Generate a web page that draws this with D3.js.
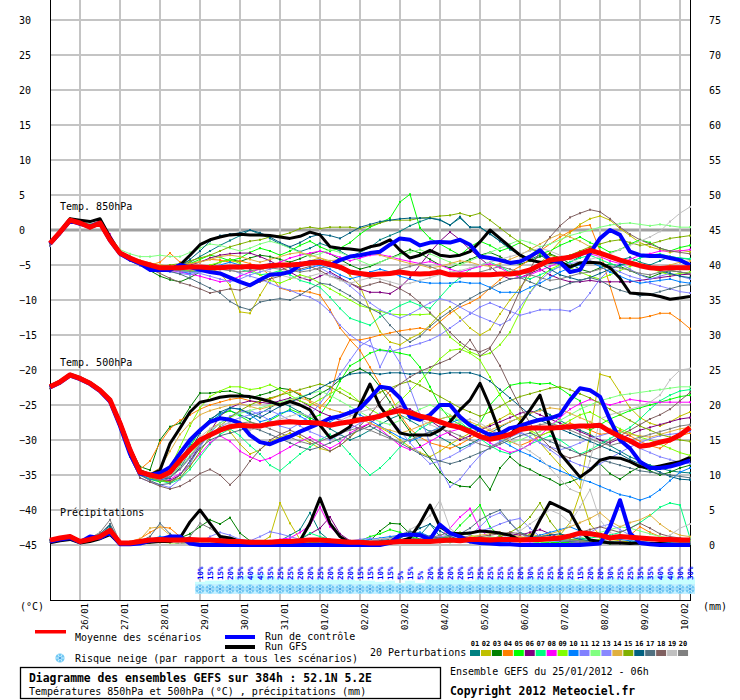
<!DOCTYPE html>
<html><head><meta charset="utf-8">
<script src="https://cdn.jsdelivr.net/npm/d3@7"></script>
<style>body{margin:0;background:#fff}svg{display:block}</style>
</head><body><svg id="c" width="740" height="700"></svg>
<script>
// ---------------- DATA ----------------
const leftTicks = [30,25,20,15,10,5,0,-5,-10,-15,-20,-25,-30,-35,-40,-45];
const rightTicks = [75,70,65,60,55,50,45,40,35,30,25,20,15,10,5,0];
const dayLabels = ["26/01","27/01","28/01","29/01","30/01","31/01","01/02","02/02","03/02","04/02","05/02","06/02","07/02","08/02","09/02","10/02"];
const dayIdx = [3,7,11,15,19,23,27,31,35,39,43,47,51,55,59,63];
const snowStart = 15;
const snowPct = [10,15,15,20,35,40,45,35,25,25,20,20,25,20,20,20,15,15,10,15,5,15,5,20,20,
                 20,20,15,25,25,25,25,20,30,25,25,20,25,15,20,20,30,25,25,35,35,40,40,30,30];
const pertNames = ["01","02","03","04","05","06","07","08","09","10","11","12","13","14","15","16","17","18","19","20"];
const pertColors = ["#008080","#c0c000","#008000","#ff8000","#00ff00","#800080","#00ff80","#ff00ff","#80ff00","#0080ff","#8080ff","#80ff80","#8888ff","#e0b040","#80b000","#006080","#507080","#806060","#c0c0c0","#808080"];

const mean850 = [-1.9,-0.3,1.4,1.0,0.4,1.0,-1.4,-3.3,-4.0,-4.6,-5.0,-5.4,-5.4,-5.4,
 -5.3,-5.3,-5.4,-5.4,-5.3,-5.3,-5.2,-5.3,-5.1,-5.0,
 -5.0,-4.9,-4.7,-4.6,-4.9,-5.3,-6.0,-6.2,-6.4,-6.3,
 -6.2,-6.0,-6.2,-6.3,-6.2,-6.0,-6.4,-6.4,-6.4,-6.4,
 -6.4,-6.3,-6.3,-6.1,-5.7,-5.0,-4.3,-4.1,-3.9,-3.4,
 -2.9,-3.3,-3.8,-4.3,-4.7,-5.1,-5.4,-5.5,-5.4,-5.4,-5.4];
const ctrl850 = [-2.0,-0.4,1.3,0.9,0.5,1.0,-1.5,-3.4,-4.2,-4.8,-5.7,-5.7,-5.7,-5.0,
 -5.3,-5.7,-6.0,-6.2,-6.8,-7.4,-7.9,-7.1,-6.4,-6.3,
 -6.0,-5.0,-4.6,-4.5,-5.0,-4.3,-3.8,-3.6,-3.3,-3.1,
 -2.1,-1.2,-1.4,-2.2,-1.8,-1.7,-1.8,-1.4,-2.1,-3.8,
 -4.0,-4.3,-4.7,-4.5,-3.8,-2.9,-4.3,-4.6,-6.0,-5.7,
 -3.3,-1.2,0.0,-0.7,-3.1,-3.6,-3.7,-3.7,-4.0,-4.3,-5.0];
const gfs850 = [-1.9,-0.2,1.6,1.4,1.2,1.6,-1.0,-3.3,-4.1,-4.7,-5.2,-5.6,-5.6,-5.0,
 -3.6,-2.1,-1.4,-1.0,-0.7,-0.6,-0.7,-0.7,-0.8,-1.0,
 -1.2,-0.9,-0.3,-0.7,-2.4,-2.6,-2.7,-2.9,-2.4,-2.1,
 -1.4,-2.9,-4.0,-3.6,-2.9,-3.6,-3.8,-3.6,-3.1,-1.7,
 0.0,-1.2,-2.4,-3.6,-4.3,-4.6,-4.6,-4.5,-5.3,-4.7,
 -4.6,-4.7,-5.4,-6.9,-9.0,-9.1,-9.2,-9.5,-9.9,-9.7,-9.5];

const mean500 = [-22.4,-21.7,-20.7,-21.2,-21.9,-22.9,-24.3,-27.6,-31.4,-34.6,-35.0,-35.3,-34.6,-32.9,
 -31.4,-30.0,-29.3,-28.6,-28.1,-27.9,-28.0,-28.0,-27.7,-27.5,
 -27.4,-27.5,-27.5,-27.6,-27.9,-27.6,-27.4,-27.1,-26.9,-26.6,
 -26.1,-25.8,-26.1,-26.6,-26.9,-27.4,-27.9,-28.2,-28.8,-29.5,
 -29.9,-29.6,-29.2,-28.5,-28.3,-28.3,-28.3,-28.2,-28.1,-28.0,
 -28.0,-27.9,-28.8,-29.5,-30.1,-30.9,-30.7,-30.3,-30.0,-29.3,-28.2];
const ctrl500 = [-22.5,-21.8,-20.8,-21.3,-22.0,-23.0,-24.5,-28.0,-32.0,-34.8,-35.0,-34.7,-33.9,-31.9,
 -30.0,-28.6,-27.4,-26.9,-27.1,-27.6,-29.3,-30.3,-30.6,-30.0,
 -29.5,-28.8,-28.2,-27.6,-26.9,-26.6,-26.1,-25.5,-24.0,-22.4,
 -22.6,-24.0,-26.7,-27.1,-26.4,-25.0,-25.0,-26.7,-27.9,-28.6,
 -29.3,-29.1,-28.3,-28.0,-27.5,-27.1,-26.9,-26.4,-24.3,-22.6,
 -22.9,-23.8,-27.1,-30.0,-31.2,-33.1,-34.0,-34.0,-33.8,-33.4,-32.9];
const gfs500 = [-22.3,-21.6,-20.6,-21.1,-21.8,-22.8,-24.2,-27.4,-31.2,-34.4,-35.0,-34.3,-30.5,-28.3,
 -26.0,-24.6,-24.3,-23.9,-23.7,-23.7,-23.8,-24.1,-24.5,-25.0,
 -24.5,-25.0,-25.7,-27.9,-29.7,-29.0,-28.1,-25.0,-22.0,-25.2,
 -27.1,-29.0,-29.3,-29.3,-29.3,-28.6,-27.4,-25.7,-24.3,-21.9,
 -25.2,-29.0,-29.3,-27.6,-25.7,-23.6,-28.1,-31.9,-33.6,-35.3,
 -34.3,-32.9,-32.5,-32.6,-33.1,-33.8,-34.0,-33.7,-33.4,-33.1,-32.5];

const meanPr = [0.7,1.0,1.2,0.5,0.8,1.2,2.1,0.3,0.3,0.5,0.7,0.8,0.7,0.7,
 0.8,0.7,0.7,0.6,0.5,0.5,0.4,0.4,0.4,0.5,
 0.5,0.6,0.7,0.7,0.6,0.5,0.4,0.4,0.3,0.3,
 0.4,0.5,0.5,0.5,0.5,0.6,0.7,0.6,0.8,0.8,
 0.7,0.8,0.8,0.7,0.8,0.8,0.9,1.0,1.3,1.7,
 1.6,1.4,1.0,1.2,1.1,1.0,0.9,0.8,0.8,0.7,0.7];
const ctrlPr = [0.5,0.8,1.0,0.4,1.2,1.0,1.8,0.1,0.1,0.2,0.6,0.8,1.2,1.2,
 0.2,0,0,0,0,0,0,0,0,0,
 0,0,0,0,0,0,0,0,0,0,
 0.3,1.4,1.5,1.4,0.8,2.9,1.7,1.2,0.5,0.3,
 0.2,0.1,0.1,0,0,0,0,0,0,0,
 0.1,0.2,2.6,6.4,1.7,0.3,0.1,0,0,0,0];
const gfsPr = [0.3,0.6,0.8,0.3,0.5,0.9,1.5,0.1,0.2,0.3,0.4,0.5,0.5,1.0,
 3.3,5.0,3.1,1.2,1.0,0.5,0,0,0.1,0.2,
 0.3,0.6,3.1,6.7,3.1,1.2,0.3,0.2,0.1,0.2,
 0.3,0.5,1.0,3.1,5.7,2.6,1.7,1.6,1.7,2.0,
 1.9,1.7,1.4,0.7,0.8,3.6,6.1,5.4,4.7,2.1,
 0.7,0.5,0.3,0.3,0.2,0.3,0.2,0.2,0.1,0.1,0.1];

const pert850 = [
 [-2.1,-0.5,1.6,1.2,0.6,0.9,-1.0,-3.5,-4.2,-4.5,-5.1,-5.6,-5.2,-5.0, -4.6,-3.8,-3.0,-2.2,-1.5,-0.8,0.0,-0.6,-1.2,-2.0, -2.5,-3.1,-2.6,-1.9,-2.4,-3.0,-3.8,-3.2,-2.5,-1.4, -0.8,-0.2,0.6,1.2,1.7,1.5,0.7,1.7,0.4,0.4, -0.5,-1.6,-2.8,-3.5,-4.2,-3.6,-4.4,-5.0,-4.6,-3.8, -3.0,-3.4,-4.0,-4.3,-3.9,-4.6,-5.0,-4.4,-3.8,-4.0, -4.2],
 [-1.9,-0.2,1.4,1.0,0.5,1.1,-1.4,-3.2,-3.9,-4.5,-4.9,-5.3,-5.2,-5.4, -5.8,-5.6,-5.5,-6.1,-7.9,-11.7,-11.9,-9.3,-7.0,-5.8, -5.2,-4.8,-4.4,-4.0,-4.6,-5.2,-6.5,-8.0,-11.5,-14.5, -16.0,-16.4,-15.5,-14.8,-13.6,-12.0,-11.0,-12.5,-14.0,-15.0, -14.2,-12.0,-10.0,-8.2,-6.5,-4.8,-3.2,-1.6,-0.4,0.8, 1.6,2.0,1.4,0.2,-0.8,-1.8,-2.4,-2.8,-3.2,-2.9, -3.1],
 [-2.0,-0.4,1.5,1.2,0.6,1.1,-1.2,-3.4,-4.3,-5.0,-5.8,-6.6,-7.1,-7.4, -6.8,-6.0,-5.2,-4.6,-4.2,-4.5,-4.0,-3.6,-3.8,-4.2, -4.6,-4.1,-3.5,-3.0,-3.4,-4.2,-5.0,-5.6,-5.2,-4.6, -4.0,-3.4,-2.8,-3.3,-4.2,-5.0,-5.4,-4.8,-4.2,-3.6, -3.2,-3.8,-4.6,-4.9,-4.4,-3.8,-3.4,-4.0,-4.8,-5.6, -6.0,-5.4,-4.8,-5.2,-5.8,-6.4,-6.8,-6.2,-5.8,-6.0, -6.3],
 [-2.0,-0.3,1.5,1.0,0.4,0.9,-1.3,-3.2,-4.0,-4.5,-5.0,-4.6,-3.3,-4.6, -4.8,-4.5,-4.2,-4.3,-4.6,-4.4,-4.8,-5.3,-6.5,-8.3, -8.7,-8.7,-8.9,-9.3,-11.4,-14.0,-15.7,-15.7,-15.4,-15.0, -14.7,-14.4,-14.2,-14.0,-14.3,-13.1,-11.9,-11.0,-10.4,-9.6, -8.3,-7.1,-6.0,-5.2,-4.2,-3.0,-2.0,-1.0,-0.2,0.5, 0.7,-3.0,-8.0,-12.6,-12.6,-12.6,-12.3,-11.9,-11.9,-12.9, -14.1],
 [-2.2,-0.5,1.3,1.0,0.4,1.0,-1.1,-3.0,-3.8,-4.4,-4.8,-5.0,-5.2,-5.1, -4.8,-4.2,-3.6,-3.9,-4.4,-4.0,-3.2,-2.6,-3.0,-3.6, -3.0,-2.2,-1.6,-2.4,-3.0,-2.6,-1.8,-0.6,0.4,1.0, 1.7,4.0,5.1,0.3,-1.2,-2.0,-2.8,-3.6,-2.4,-1.6, -2.2,-3.0,-2.5,-1.8,-2.6,-3.4,-3.0,-2.2,-1.6,-1.0, -1.8,-2.4,-3.2,-2.8,-2.0,-1.4,-1.8,-2.6,-3.0,-2.5, -2.2],
 [-2.0,-0.3,1.6,1.3,0.8,1.3,-1.0,-3.1,-3.9,-4.4,-4.9,-5.2,-5.3,-5.2, -5.0,-4.6,-4.0,-3.6,-3.4,-3.3,-3.3,-3.8,-4.4,-5.2, -6.0,-6.8,-7.2,-6.6,-6.0,-6.8,-7.6,-8.4,-8.9,-8.9, -9.1,-8.2,-6.8,-5.0,-3.2,-1.6,-0.3,-1.4,-2.8,-4.0, -5.2,-6.4,-7.0,-6.8,-6.2,-5.6,-6.4,-7.0,-7.4,-7.4, -7.2,-7.4,-7.4,-7.4,-7.4,-7.2,-7.0,-6.8,-6.6,-6.4, -6.3],
 [-1.9,-0.2,1.5,1.1,0.6,1.0,-1.4,-3.4,-4.1,-4.8,-5.2,-5.5,-5.6,-5.7, -5.9,-6.0,-5.8,-5.5,-5.2,-5.6,-6.0,-6.4,-6.2,-5.8, -6.4,-7.2,-7.6,-8.2,-9.6,-11.2,-12.6,-13.1,-13.6,-12.4, -11.6,-10.8,-10.2,-10.8,-11.2,-9.6,-8.0,-6.8,-5.6,-5.0, -4.6,-5.2,-6.0,-6.6,-7.0,-6.4,-5.8,-5.2,-4.6,-4.0, -3.6,-4.2,-4.8,-5.2,-4.6,-4.0,-3.6,-3.4,-3.8,-4.0, -4.1],
 [-2.1,-0.4,1.4,1.0,0.5,1.1,-0.6,-3.0,-4.0,-4.7,-5.2,-5.6,-5.8,-6.0, -6.3,-6.6,-7.0,-7.4,-7.2,-6.6,-6.0,-5.6,-5.2,-4.6, -4.0,-3.6,-3.3,-3.0,-3.4,-3.9,-4.4,-4.0,-3.6,-3.5, -3.8,-4.2,-4.5,-4.8,-4.5,-5.0,-5.6,-6.0,-5.6,-5.2, -4.8,-5.4,-6.2,-6.8,-6.4,-5.8,-5.2,-4.6,-4.0,-3.6, -3.4,-3.8,-4.4,-4.8,-4.2,-3.6,-3.4,-3.0,-3.0,-3.0, -2.8],
 [-1.8,-0.1,1.6,1.2,0.6,1.0,-1.2,-3.2,-3.9,-4.4,-4.9,-5.3,-5.4,-5.6, -5.8,-5.4,-5.0,-4.6,-4.2,-4.8,-5.6,-6.4,-7.2,-7.6, -7.0,-6.4,-6.8,-7.6,-8.4,-9.2,-10.0,-10.8,-11.2,-11.6, -12.0,-12.1,-12.1,-12.1,-12.0,-13.1,-15.3,-16.4,-17.4,-18.0, -17.6,-16.4,-14.6,-11.7,-8.9,-7.0,-5.6,-5.0,-5.4,-6.0, -6.6,-7.0,-6.4,-5.8,-5.2,-4.8,-5.4,-6.0,-6.4,-6.2, -6.0],
 [-2.0,-0.3,1.4,1.0,0.4,0.9,-1.4,-3.5,-4.3,-5.0,-5.6,-5.8,-5.6,-5.9, -6.2,-5.8,-5.4,-5.0,-4.6,-5.0,-5.6,-5.2,-4.8,-5.0, -5.4,-5.8,-5.4,-5.0,-5.6,-6.4,-7.0,-6.6,-6.0,-5.6, -6.0,-6.6,-7.0,-7.4,-7.6,-7.6,-7.6,-7.4,-7.6,-7.6, -8.2,-8.9,-8.9,-8.9,-8.2,-7.6,-6.8,-6.0,-5.4,-5.0, -4.6,-5.2,-6.0,-6.6,-7.2,-7.6,-7.4,-7.2,-7.0,-7.4, -7.6],
 [-2.3,-0.6,1.2,0.8,0.3,0.8,-1.5,-3.6,-4.4,-5.1,-5.6,-5.8,-6.0,-6.2, -6.4,-6.0,-5.4,-5.0,-5.6,-6.2,-6.6,-7.0,-7.6,-8.2, -8.6,-9.2,-9.6,-10.4,-11.7,-13.6,-15.0,-16.0,-16.6,-17.2, -17.4,-17.0,-16.6,-16.2,-15.7,-15.0,-14.0,-13.0,-12.0,-11.0, -10.4,-11.0,-11.6,-12.2,-11.8,-11.4,-11.4,-11.4,-11.6,-10.8, -9.0,-7.0,-5.6,-4.8,-5.6,-6.4,-7.0,-6.6,-6.2,-6.6, -7.0],
 [-1.8,-0.1,1.6,1.3,0.8,1.2,-0.8,-2.8,-3.4,-3.8,-3.8,-3.6,-3.8,-3.8, -3.2,-2.6,-2.0,-2.2,-2.6,-3.0,-2.6,-2.0,-1.6,-2.0, -2.6,-3.2,-3.8,-3.4,-2.8,-3.2,-3.8,-4.4,-5.0,-4.6, -4.0,-3.6,-3.2,-2.8,-3.4,-4.0,-4.6,-5.0,-4.4,-3.8, -3.2,-2.6,-2.0,-1.4,-1.8,-2.4,-2.0,-1.4,-0.8,-0.4, 0.0,0.4,0.7,0.9,1.0,0.8,0.6,0.8,0.6,0.4, 0.4],
 [-2.1,-0.4,1.3,0.9,0.4,0.9,-1.3,-3.3,-4.1,-4.7,-5.2,-5.6,-5.8,-5.9, -6.0,-6.2,-6.6,-7.0,-7.4,-7.0,-6.4,-6.0,-5.6,-5.2, -5.0,-4.6,-4.8,-5.4,-6.2,-7.0,-8.0,-9.2,-10.4,-11.4, -12.0,-12.6,-12.0,-11.2,-10.4,-9.8,-10.2,-11.0,-11.8,-12.4, -13.0,-13.6,-12.8,-11.0,-9.0,-7.2,-6.0,-5.2,-4.8,-4.6, -4.4,-4.8,-5.4,-6.0,-6.6,-7.0,-7.6,-8.0,-8.4,-8.8, -9.0],
 [-1.9,-0.2,1.7,1.3,0.7,1.1,-1.1,-3.1,-3.8,-4.3,-4.7,-5.0,-5.1,-5.0, -4.8,-4.6,-4.2,-3.8,-3.6,-3.8,-4.2,-4.6,-4.2,-3.8, -3.4,-3.2,-3.6,-4.0,-4.4,-4.2,-3.8,-3.4,-3.2,-3.6, -4.0,-4.4,-4.8,-5.0,-5.4,-5.2,-4.8,-4.4,-4.6,-5.0, -5.2,-4.8,-4.2,-3.6,-2.8,-2.0,-1.2,-0.6,-1.0,-1.6, -2.4,-3.2,-3.8,-4.4,-4.8,-5.0,-5.2,-5.4,-5.0,-4.6, -4.4],
 [-2.0,-0.3,1.5,1.1,0.5,1.0,-1.2,-3.3,-4.1,-4.6,-5.0,-5.2,-5.0,-4.8, -4.4,-4.0,-3.6,-3.0,-2.4,-2.0,-1.6,-1.4,-1.0,-0.8, -0.4,0.2,0.4,0.2,0.4,0.4,0.4,0.2,0.6,1.0, 1.4,1.4,1.4,1.7,1.8,2.0,2.1,2.4,2.0,2.4, 1.4,0.3,-0.8,-1.8,-2.6,-3.2,-3.6,-4.0,-3.6,-3.0, -2.4,-2.0,-1.6,-1.4,-1.8,-2.2,-2.0,-1.6,-1.2,-1.0, -0.8],
 [-2.0,-0.3,1.4,1.0,0.5,1.0,-1.3,-3.3,-4.0,-4.6,-5.0,-5.4,-5.6,-5.2, -4.2,-3.0,-1.6,-0.8,-0.6,-0.4,0.0,-0.4,-1.0,-1.8, -2.4,-1.8,-1.0,-0.6,-0.8,-1.2,-0.4,0.4,0.8,1.2, 1.4,1.6,1.7,1.7,1.7,1.4,0.7,1.9,0.4,0.4, -0.6,-1.6,-2.6,-3.4,-4.2,-4.8,-5.6,-6.4,-6.8,-7.2, -6.8,-6.2,-5.6,-5.0,-4.6,-5.0,-5.4,-5.8,-6.2,-6.6, -6.8],
 [-2.2,-0.6,1.2,0.8,0.2,0.7,-1.6,-3.6,-4.4,-5.0,-5.4,-5.7,-5.9,-6.3, -6.9,-7.6,-8.3,-9.0,-10.2,-11.0,-11.4,-10.3,-10.0,-9.8, -10.0,-9.3,-8.4,-7.6,-7.8,-8.6,-9.4,-10.4,-11.2,-11.9, -13.6,-15.0,-16.0,-15.2,-13.8,-12.6,-11.6,-10.6,-9.8,-9.0, -8.4,-7.6,-7.0,-6.8,-7.4,-8.0,-8.6,-8.2,-7.6,-7.2, -6.8,-7.2,-8.0,-8.6,-9.0,-9.4,-9.2,-8.8,-8.4,-8.0, -7.8],
 [-2.1,-0.5,1.4,1.0,0.4,0.9,-1.4,-3.5,-4.3,-5.0,-5.6,-6.2,-6.9,-7.5, -7.9,-8.4,-9.0,-8.7,-8.4,-8.6,-8.0,-7.4,-7.0,-6.6, -6.0,-5.6,-5.2,-5.8,-6.6,-7.0,-7.6,-8.2,-7.8,-7.4, -7.8,-8.4,-9.2,-10.4,-11.8,-13.2,-14.6,-16.0,-17.0,-17.4, -16.8,-14.6,-11.8,-8.6,-5.6,-3.0,-1.0,0.6,1.8,2.4, 2.9,2.6,1.6,0.4,-0.6,-1.4,-2.0,-2.6,-3.0,-3.2, -3.4],
 [-1.9,-0.2,1.6,1.2,0.6,1.0,-1.2,-3.3,-4.0,-4.6,-5.1,-5.5,-5.6,-5.6, -5.6,-5.5,-5.4,-5.6,-5.8,-5.6,-5.4,-5.6,-6.0,-6.4, -6.8,-7.0,-6.6,-6.2,-6.6,-7.2,-7.6,-7.2,-6.8,-7.0, -7.4,-7.8,-7.6,-7.2,-6.8,-6.4,-6.0,-5.8,-5.4,-5.0, -4.6,-4.2,-3.8,-3.4,-3.0,-2.6,-3.0,-3.6,-4.2,-4.6, -4.2,-3.8,-3.4,-2.8,-2.2,-1.6,-1.0,-0.2,1.2,2.4, 3.3],
 [-2.0,-0.4,1.5,1.1,0.5,1.0,-1.3,-3.4,-4.2,-4.8,-5.3,-5.6,-5.7,-5.8, -5.9,-5.8,-5.6,-5.6,-5.8,-6.0,-5.8,-5.6,-5.4,-5.6, -5.8,-6.0,-5.8,-5.4,-5.2,-5.6,-6.0,-6.4,-6.8,-6.4, -6.0,-5.6,-5.2,-4.8,-5.2,-5.8,-6.4,-6.8,-6.4,-6.0, -5.6,-5.2,-5.6,-6.0,-6.4,-6.8,-7.2,-7.0,-6.6,-6.2, -6.0,-5.6,-5.2,-5.4,-5.8,-6.2,-6.4,-6.0,-5.8,-6.0, -6.2]
];

const pert500 = [
 [-22.5,-21.8,-20.8,-21.3,-22.0,-23.0,-24.6,-28.0,-32.0,-35.0,-35.6,-35.8,-35.0,-33.0, -30.6,-28.4,-27.0,-26.2,-25.8,-26.4,-27.0,-26.2,-25.4,-24.6, -25.2,-26.0,-26.8,-27.6,-28.4,-29.2,-30.0,-29.4,-28.6,-27.8, -27.0,-26.4,-27.2,-28.0,-28.8,-29.6,-30.4,-31.2,-30.6,-29.8, -29.0,-28.2,-27.4,-26.8,-26.2,-25.6,-26.4,-27.2,-28.0,-28.6, -29.2,-30.0,-30.8,-31.6,-32.4,-33.0,-33.6,-34.0,-34.4,-34.6, -34.7],
 [-22.3,-21.6,-20.6,-21.0,-21.8,-22.8,-24.2,-27.5,-31.2,-34.4,-35.0,-35.6,-36.0,-35.0, -33.4,-30.6,-28.4,-27.6,-28.8,-30.6,-32.0,-31.4,-30.2,-29.6, -29.0,-29.6,-30.4,-31.2,-31.6,-30.8,-29.6,-28.4,-27.6,-28.2, -29.0,-30.0,-31.0,-31.8,-32.4,-31.6,-30.6,-29.8,-29.0,-28.4, -27.8,-27.0,-26.2,-27.0,-28.6,-30.4,-32.0,-33.6,-35.0,-36.8, -29.0,-20.6,-21.0,-23.2,-25.4,-26.8,-27.6,-28.0,-27.4,-26.6, -26.0],
 [-22.4,-21.7,-20.7,-21.2,-21.9,-22.9,-24.3,-27.6,-31.0,-33.8,-34.3,-30.0,-28.1,-27.6, -25.3,-23.3,-23.3,-23.1,-23.0,-23.4,-24.0,-23.6,-23.2,-22.6, -22.8,-23.6,-24.2,-23.4,-22.6,-21.4,-20.4,-19.8,-20.6,-22.4, -24.6,-26.8,-28.8,-30.8,-32.6,-34.6,-36.0,-36.6,-36.7,-35.2, -37.1,-34.0,-32.4,-33.6,-34.2,-35.0,-35.6,-36.4,-36.0,-35.4, -34.2,-33.4,-34.8,-35.6,-34.6,-33.8,-34.4,-35.0,-34.6,-34.0, -33.6],
 [-22.3,-21.6,-20.6,-21.1,-21.8,-22.8,-24.2,-27.4,-31.0,-34.2,-33.0,-30.4,-28.4,-27.2, -26.4,-25.6,-25.0,-24.6,-24.2,-24.0,-24.4,-24.8,-24.2,-23.6, -22.8,-23.4,-24.6,-25.4,-23.8,-18.4,-15.7,-17.2,-19.6,-22.0, -23.6,-26.4,-28.4,-29.6,-30.4,-30.8,-31.2,-30.6,-29.8,-29.0, -28.6,-29.4,-30.2,-30.8,-30.2,-29.4,-28.8,-28.2,-27.6,-28.0, -28.6,-29.2,-29.0,-28.6,-29.4,-30.2,-30.8,-31.2,-30.2,-29.4, -29.0],
 [-22.5,-21.8,-20.8,-21.3,-22.0,-23.0,-24.5,-27.9,-31.8,-35.0,-35.6,-36.0,-35.4,-33.6, -31.0,-28.6,-27.4,-26.4,-25.8,-26.6,-27.4,-28.0,-27.2,-26.4, -25.6,-26.2,-27.0,-26.4,-24.4,-21.6,-19.4,-18.6,-17.6,-17.1, -17.3,-17.6,-17.9,-19.6,-22.4,-25.2,-27.0,-27.8,-28.4,-27.6, -25.0,-23.4,-22.2,-21.9,-21.8,-22.0,-21.9,-22.6,-23.6,-24.4, -28.6,-27.8,-27.0,-26.4,-25.8,-25.4,-25.0,-24.6,-24.2,-23.8, -23.6],
 [-22.4,-21.7,-20.7,-21.2,-21.9,-22.9,-24.3,-27.6,-31.4,-34.6,-35.2,-35.6,-35.8,-35.0, -33.0,-30.8,-28.8,-26.6,-25.4,-24.8,-24.4,-24.6,-24.8,-24.4, -24.0,-24.4,-25.2,-26.0,-26.6,-27.2,-27.8,-28.4,-27.6,-26.6, -25.8,-25.2,-25.6,-26.4,-27.2,-28.2,-29.2,-30.0,-29.4,-28.6, -28.0,-27.4,-26.8,-26.2,-25.8,-26.4,-27.0,-27.6,-28.2,-28.8, -29.4,-30.0,-30.4,-29.8,-29.2,-28.6,-28.2,-27.8,-27.4,-27.0, -26.8],
 [-22.3,-21.6,-20.6,-21.1,-21.8,-22.8,-24.2,-27.5,-31.3,-34.5,-35.3,-35.8,-36.2,-35.6, -34.2,-32.4,-30.6,-29.2,-28.4,-29.4,-30.8,-32.0,-33.6,-34.4, -33.2,-32.0,-31.0,-30.0,-29.2,-30.4,-32.0,-33.6,-35.0,-34.0, -32.6,-31.0,-29.6,-28.4,-27.6,-27.0,-26.6,-27.4,-28.6,-29.8, -30.8,-31.6,-32.0,-31.4,-30.6,-30.0,-29.4,-30.0,-31.0,-32.0, -31.4,-30.6,-29.8,-29.0,-28.2,-27.0,-25.6,-24.4,-23.6,-23.0, -22.8],
 [-22.4,-21.7,-20.7,-21.2,-21.9,-22.8,-24.0,-27.0,-30.8,-34.2,-35.0,-35.4,-35.6,-34.8, -33.6,-32.0,-30.4,-29.4,-30.2,-31.6,-32.4,-33.0,-32.6,-31.8, -31.0,-30.2,-29.6,-30.4,-31.2,-30.4,-29.0,-28.2,-27.6,-28.4, -29.6,-30.8,-31.4,-31.0,-30.2,-29.4,-28.8,-28.4,-28.8,-29.6, -30.4,-31.2,-31.8,-31.4,-30.6,-29.4,-28.0,-26.8,-25.6,-24.8, -24.2,-24.6,-25.0,-24.6,-24.2,-24.4,-24.6,-24.6,-24.6,-24.6, -24.6],
 [-22.4,-21.7,-20.6,-21.1,-21.8,-22.8,-24.2,-27.4,-31.2,-34.4,-35.0,-35.4,-34.0,-31.0, -28.0,-25.4,-23.8,-23.0,-22.4,-22.4,-22.8,-22.6,-22.1,-22.8, -23.6,-24.4,-25.0,-24.2,-23.4,-22.6,-23.4,-24.6,-25.6,-26.4, -25.6,-24.4,-23.0,-21.6,-20.0,-18.4,-17.2,-17.0,-17.6,-18.6, -21.0,-23.6,-25.8,-27.4,-28.6,-29.4,-28.8,-28.0,-27.2,-26.4, -26.0,-26.8,-27.6,-28.4,-29.0,-29.6,-30.0,-30.6,-31.2,-31.8, -32.2],
 [-22.5,-21.8,-20.8,-21.3,-22.0,-23.0,-24.6,-28.2,-32.2,-35.0,-35.6,-35.8,-35.2,-33.2, -30.6,-28.6,-27.4,-26.4,-25.4,-25.6,-26.4,-27.4,-27.0,-26.2, -25.8,-26.6,-27.4,-28.0,-27.4,-26.6,-25.8,-26.4,-27.2,-28.0, -28.8,-29.6,-30.2,-29.6,-28.8,-28.2,-27.6,-27.0,-27.6,-28.4, -29.2,-30.0,-30.8,-31.6,-32.2,-33.0,-33.8,-34.4,-35.0,-35.6, -36.0,-36.6,-37.2,-37.8,-38.1,-38.6,-38.1,-37.1,-35.8,-34.6, -34.0],
 [-22.6,-21.9,-20.9,-21.4,-22.1,-23.1,-24.8,-28.4,-32.4,-35.4,-36.0,-36.4,-36.8,-35.6, -33.4,-31.0,-29.0,-27.6,-26.6,-26.0,-25.8,-26.4,-27.2,-28.0, -28.4,-27.6,-26.4,-24.8,-22.8,-20.6,-18.6,-16.6,-15.7,-19.6, -16.7,-19.0,-22.6,-26.4,-30.6,-34.0,-36.7,-35.6,-33.8,-32.2, -31.0,-30.2,-29.6,-29.0,-29.6,-30.4,-31.4,-32.4,-33.0,-33.6, -34.0,-33.4,-32.6,-31.8,-31.0,-30.4,-29.8,-29.4,-29.2,-29.0, -28.8],
 [-22.3,-21.6,-20.6,-21.1,-21.8,-22.7,-24.0,-27.2,-31.0,-34.2,-34.8,-35.2,-35.0,-34.0, -32.2,-30.4,-28.8,-27.6,-26.8,-26.2,-25.8,-25.4,-25.0,-24.6, -24.2,-23.8,-23.4,-23.0,-23.6,-24.4,-25.2,-26.0,-26.8,-27.4, -27.8,-27.2,-26.4,-25.6,-25.0,-25.6,-26.4,-27.2,-28.0,-28.6, -29.2,-29.8,-30.4,-30.0,-29.4,-28.8,-28.0,-27.2,-26.4,-25.6, -25.0,-24.4,-24.0,-23.6,-23.4,-23.2,-23.0,-22.8,-22.6,-22.4, -22.4],
 [-22.4,-21.7,-20.7,-21.2,-21.9,-22.9,-24.4,-27.8,-31.6,-34.8,-35.4,-35.8,-35.4,-34.2, -32.6,-30.8,-29.2,-28.2,-27.4,-26.8,-26.4,-26.0,-25.8,-26.4, -27.2,-28.0,-28.8,-29.4,-30.0,-29.2,-28.4,-27.6,-26.8,-26.2, -27.0,-28.6,-30.4,-32.0,-33.4,-33.0,-32.4,-31.6,-30.8,-30.0, -29.4,-28.8,-28.4,-28.8,-29.6,-30.4,-31.0,-31.4,-31.0,-30.4, -29.8,-29.4,-29.0,-29.6,-30.4,-31.2,-31.8,-32.4,-32.8,-33.2, -33.4],
 [-22.3,-21.6,-20.6,-21.1,-21.8,-22.8,-24.1,-27.3,-31.0,-34.2,-34.8,-34.0,-31.6,-29.2, -27.6,-26.4,-25.8,-25.4,-25.0,-24.8,-25.2,-25.6,-25.2,-24.8, -24.4,-24.0,-24.4,-25.0,-25.6,-26.0,-26.4,-27.0,-27.6,-28.2, -28.6,-29.0,-28.6,-28.0,-27.4,-27.0,-26.6,-26.8,-27.4,-28.0, -28.6,-28.0,-27.4,-26.8,-26.2,-25.8,-25.4,-25.6,-26.2,-26.8, -27.4,-28.0,-28.4,-28.8,-29.2,-29.4,-29.6,-29.2,-28.8,-28.4, -28.2],
 [-22.4,-21.7,-20.7,-21.2,-21.9,-22.9,-24.3,-27.6,-31.4,-34.6,-35.4,-35.8,-36.0,-35.4, -33.8,-31.6,-29.6,-28.0,-26.8,-25.8,-25.0,-24.4,-24.0,-23.6, -23.2,-22.8,-22.4,-22.0,-22.4,-23.2,-24.0,-24.6,-24.0,-23.2, -22.6,-22.0,-21.6,-22.2,-23.0,-23.8,-24.6,-25.4,-26.0,-26.6, -26.0,-25.2,-24.4,-23.8,-23.4,-23.0,-22.6,-22.4,-22.8,-23.4, -24.0,-24.8,-25.6,-26.4,-27.2,-28.0,-28.6,-29.2,-29.6,-30.0, -30.2],
 [-22.4,-21.7,-20.7,-21.2,-21.9,-22.9,-24.3,-27.6,-31.4,-34.6,-35.2,-35.6,-35.4,-34.0, -31.6,-29.0,-27.2,-26.0,-25.4,-25.6,-26.2,-26.8,-26.0,-25.2, -24.6,-24.0,-23.4,-22.6,-21.8,-21.2,-20.6,-20.4,-20.4,-20.6, -20.4,-20.4,-20.6,-20.4,-20.4,-20.6,-20.4,-20.4,-20.4,-20.8, -21.6,-22.8,-24.0,-25.2,-26.4,-27.2,-27.8,-28.4,-29.0,-29.6, -30.2,-30.8,-31.4,-32.0,-32.8,-33.4,-34.0,-34.6,-35.2,-35.6, -35.7],
 [-22.5,-21.8,-20.8,-21.3,-22.0,-23.0,-24.6,-28.0,-32.0,-35.0,-35.8,-36.4,-36.2,-35.0, -33.0,-31.2,-30.0,-29.4,-29.0,-28.6,-28.2,-28.6,-29.2,-29.8, -30.4,-31.0,-31.4,-31.0,-30.4,-29.8,-29.2,-28.6,-28.0,-28.8, -29.6,-30.4,-31.2,-32.0,-32.6,-33.0,-33.4,-33.0,-32.4,-31.8, -31.2,-30.6,-30.0,-29.4,-29.0,-29.6,-30.2,-30.8,-31.4,-32.0, -32.4,-32.8,-33.2,-33.6,-34.0,-34.4,-34.6,-34.8,-35.0,-35.2, -35.4],
 [-22.6,-21.9,-20.9,-21.4,-22.1,-23.1,-24.8,-28.4,-32.4,-35.4,-36.0,-36.6,-37.0,-36.6, -35.8,-34.8,-34.2,-35.0,-36.4,-35.0,-33.0,-31.4,-30.0,-29.2, -28.6,-29.2,-30.0,-30.8,-31.6,-30.8,-29.6,-28.0,-26.4,-24.6, -23.0,-22.0,-21.0,-20.2,-19.6,-19.0,-18.4,-17.4,-15.7,-18.0, -17.0,-19.4,-22.4,-25.2,-27.6,-29.6,-31.0,-32.0,-32.6,-32.2, -31.6,-31.0,-30.2,-29.4,-28.6,-27.8,-27.0,-26.4,-25.6,-24.4, -23.2],
 [-22.4,-21.7,-20.7,-21.2,-21.9,-22.9,-24.3,-27.6,-31.4,-34.6,-35.2,-35.6,-35.2,-33.8, -31.6,-29.6,-28.4,-27.8,-27.6,-28.0,-28.6,-28.2,-27.6,-27.0, -26.6,-26.2,-26.6,-27.2,-27.8,-27.2,-26.6,-26.0,-25.6,-25.2, -24.8,-25.4,-26.2,-27.0,-27.8,-28.4,-28.0,-27.4,-27.0,-27.6, -28.4,-29.2,-30.0,-30.8,-31.6,-32.6,-34.0,-35.6,-37.0,-37.6, -33.0,-27.0,-26.4,-26.0,-25.6,-25.2,-24.6,-23.6,-21.4,-20.0, -19.8],
 [-22.3,-21.6,-20.6,-21.1,-21.8,-22.8,-24.2,-27.5,-31.3,-34.5,-35.1,-35.5,-35.3,-34.2, -32.4,-30.6,-29.4,-28.6,-28.0,-27.6,-27.4,-27.8,-28.4,-29.0, -29.6,-30.2,-30.6,-30.2,-29.6,-29.0,-28.6,-28.2,-28.6,-29.2, -29.8,-30.4,-30.0,-29.4,-28.8,-28.4,-28.8,-29.4,-30.0,-30.6, -31.0,-30.4,-29.6,-28.8,-28.2,-27.8,-27.6,-28.0,-28.6,-29.2, -29.8,-30.4,-30.8,-30.4,-30.0,-29.6,-29.2,-28.8,-28.4,-28.0, -27.8]
];

const pertPr = [
 [0.6,1.0,1.3,0.5,0.9,1.4,2.6,0.3,0.2,0.4,0.6,0.8,0.6,0.5, 0.4,0.3,0.2,0.3,0.5,0.4,0.2,0.1,0.2,0.6, 1.4,2.2,4.6,1.8,0.6,0.4,0.3,0.2,0.2,0.4, 0.8,1.2,1.6,1.4,3.0,1.2,0.8,0.6,0.4,0.5, 0.6,0.8,1.0,1.8,1.2,0.8,0.6,0.5,0.7,1.0, 0.8,0.6,0.5,0.4,0.6,0.4,0.3,0.2,0.3,0.2, 0.2],
 [0.5,0.9,1.1,0.4,0.7,1.1,1.8,0.2,0.2,0.3,0.5,0.6,0.5,0.4, 0.3,0.2,0.1,0.2,0.3,0.2,0.1,0.3,1.2,6.0, 3.1,0.8,0.3,0.2,0.1,0.2,0.3,0.2,0.1,0.2, 0.3,0.4,0.6,0.5,0.4,0.6,0.8,0.6,0.9,1.2, 1.0,0.8,0.6,0.8,1.6,1.2,1.0,1.4,3.2,7.4, 3.0,1.4,0.8,0.6,0.4,0.3,0.4,0.3,0.2,0.2, 0.2],
 [0.7,1.1,1.3,0.6,0.9,1.3,2.0,0.4,0.3,0.5,0.8,1.0,1.2,1.0, 1.6,2.6,3.6,3.0,3.9,1.7,0.6,0.3,0.2,0.3, 0.4,0.5,0.4,0.3,0.3,0.4,0.5,0.6,0.6,2.0, 3.1,3.0,1.6,0.8,0.6,0.5,0.4,0.6,0.5,0.4, 0.3,0.4,0.5,0.6,0.5,0.4,0.3,0.4,0.3,0.3, 0.2,0.3,0.4,0.3,0.2,0.3,0.2,0.2,0.2,0.2, 0.2],
 [0.6,1.0,1.2,0.5,0.8,1.2,2.0,0.3,0.5,0.9,1.8,2.6,2.4,1.2, 0.6,0.4,0.3,0.2,0.2,0.2,0.3,0.4,0.3,0.2, 0.3,0.4,0.5,0.4,0.3,0.2,0.2,0.3,0.4,0.3, 0.2,0.3,0.4,0.6,0.8,0.6,0.5,0.6,0.7,0.9, 1.0,0.8,0.7,0.6,0.8,0.9,1.0,1.2,1.4,1.6, 1.8,1.2,0.9,0.8,1.4,2.6,1.8,1.2,1.0,0.8, 0.7],
 [0.6,1.0,1.2,0.5,0.8,1.1,1.8,0.3,0.2,0.3,0.4,0.5,0.4,0.3, 0.2,0.3,0.4,0.3,0.2,0.2,0.1,0.2,0.3,0.4, 0.3,0.2,0.3,0.4,0.3,0.2,0.3,0.6,1.2,1.6, 2.2,1.8,1.2,0.8,0.6,0.8,1.2,2.8,4.2,5.7, 2.6,1.2,0.8,0.6,0.5,0.4,0.3,0.4,0.3,0.3, 0.4,0.3,0.2,0.3,0.2,0.2,0.3,0.2,0.2,0.2, 0.2],
 [0.5,0.9,1.1,0.4,0.7,1.0,1.7,0.2,0.2,0.3,0.4,0.5,0.4,0.3, 0.3,0.2,0.2,0.3,0.2,0.2,0.1,0.2,0.3,0.4, 0.4,0.8,1.6,2.4,4.0,1.6,0.6,0.3,0.2,0.2, 0.3,0.4,0.5,0.8,1.2,0.8,0.6,0.5,0.6,0.7, 0.9,1.2,1.6,1.4,1.8,2.2,1.6,1.0,0.8,0.6, 0.5,0.4,0.4,0.3,0.3,0.2,0.3,0.2,0.2,0.2, 0.2],
 [0.6,1.0,1.2,0.5,0.8,1.2,1.9,0.3,0.2,0.3,0.4,0.5,0.4,0.3, 0.2,0.2,0.3,0.2,0.2,0.1,0.1,0.2,0.3,0.4, 0.5,0.8,1.7,1.2,0.8,0.5,0.4,0.3,0.3,0.2, 0.3,0.4,0.5,0.6,0.8,1.0,0.8,0.6,0.5,0.4, 0.5,0.6,0.8,1.0,1.2,1.0,0.8,0.7,0.6,0.8, 1.0,1.2,1.4,1.8,2.4,3.2,4.2,5.4,6.0,5.7, 1.0],
 [0.6,1.0,1.3,0.5,0.8,1.2,2.1,0.3,0.2,0.3,0.4,0.6,0.5,0.4, 0.3,0.2,0.2,0.3,0.2,0.2,0.3,0.4,0.6,0.8, 1.0,1.8,2.8,5.4,2.6,1.2,0.5,0.3,0.2,0.2, 0.3,0.4,0.6,0.5,0.7,1.2,2.4,4.0,5.2,2.2, 1.0,0.8,0.6,0.5,0.4,0.6,0.8,0.6,0.5,0.4, 0.5,0.4,0.3,0.4,0.3,0.3,0.2,0.3,0.2,0.2, 0.2],
 [0.6,1.0,1.2,0.5,0.8,1.1,1.7,0.3,0.2,0.3,0.3,0.4,0.3,0.3, 0.2,0.2,0.3,0.2,0.2,0.1,0.2,0.2,0.3,0.3, 0.4,0.3,0.2,0.2,0.3,0.4,0.5,0.4,0.3,0.3, 0.4,0.5,0.6,0.7,0.8,1.0,1.4,1.8,1.4,1.0, 0.8,0.7,0.6,0.5,0.6,0.8,1.0,0.9,0.8,0.7, 0.6,0.8,1.0,1.2,1.4,1.2,1.0,0.8,0.7,0.6, 0.6],
 [0.5,0.9,1.1,0.4,0.9,1.5,1.8,0.2,0.3,0.5,0.8,1.2,1.0,0.6, 0.4,0.3,0.2,0.3,0.2,0.2,0.1,0.2,0.3,0.4, 0.6,0.8,0.6,0.4,0.3,0.3,0.4,0.6,0.8,1.0, 1.2,1.4,1.6,1.8,1.2,0.8,0.6,0.5,0.4,0.3, 0.4,0.5,0.6,0.8,1.0,1.4,1.8,2.2,2.6,2.0, 1.6,1.2,1.0,0.8,0.6,0.5,0.4,0.3,0.3,0.2, 0.2],
 [0.6,1.0,1.3,0.5,0.9,1.5,2.0,0.3,0.2,0.3,0.4,0.5,0.4,0.3, 0.2,0.4,1.2,1.8,1.4,0.8,0.6,1.2,1.9,1.6, 1.2,0.8,0.6,0.4,0.3,0.2,0.3,0.4,0.3,0.2, 0.3,0.4,0.6,0.8,1.0,1.2,1.4,1.6,1.8,2.0, 2.4,3.0,3.5,3.8,2.4,1.2,0.8,0.6,0.5,0.4, 0.4,0.3,0.3,0.2,0.3,0.2,0.2,0.2,0.2,0.2, 0.2],
 [0.6,1.0,1.2,0.5,0.8,1.1,1.8,0.3,0.2,0.3,0.4,0.5,0.4,0.3, 0.3,0.4,0.6,0.5,0.4,0.3,0.2,0.2,0.3,0.2, 0.3,0.4,0.3,0.2,0.3,0.4,0.3,0.2,0.2,0.3, 0.4,0.5,0.6,0.4,0.3,0.4,0.5,0.6,0.8,1.0, 1.2,1.0,0.8,0.6,0.5,0.4,0.5,0.6,0.8,1.0, 1.4,1.8,2.2,2.6,2.4,2.0,1.6,1.2,1.0,0.8, 0.8],
 [0.5,0.9,1.2,0.5,0.9,1.4,2.2,0.3,0.2,0.4,0.6,0.6,0.5,0.4, 0.3,0.2,0.2,0.3,0.2,0.1,0.2,0.3,0.2,0.2, 0.3,0.4,0.5,0.4,0.3,0.4,0.6,0.8,1.0,0.8, 0.6,0.5,0.4,0.3,0.4,0.5,0.6,0.8,1.4,2.6, 4.0,4.6,3.2,1.6,1.0,0.8,0.6,0.5,0.6,1.2, 1.8,2.6,3.0,2.2,1.4,1.0,0.8,0.6,0.5,0.4, 0.4],
 [0.6,1.0,1.2,0.5,0.9,1.3,1.9,0.3,0.4,0.8,2.4,2.6,1.4,0.8, 0.5,0.4,0.3,0.2,0.3,0.2,0.1,0.2,0.3,0.3, 0.4,0.3,0.2,0.3,0.4,0.3,0.2,0.3,0.4,0.5, 0.6,0.8,0.6,0.5,0.4,0.6,0.8,1.0,1.2,1.4, 1.6,1.8,1.4,1.2,1.0,1.2,1.6,2.0,2.6,3.2, 3.8,4.6,3.4,2.6,3.2,3.6,4.3,3.0,2.0,1.4, 1.2],
 [0.6,1.0,1.2,0.5,0.8,1.2,2.0,0.3,0.2,0.3,0.4,0.5,0.4,0.3, 0.3,0.2,0.3,0.4,0.3,0.2,0.2,0.3,0.4,0.5, 0.6,0.5,0.4,0.3,0.2,0.3,0.4,0.3,0.2,0.3, 0.4,0.5,0.6,0.5,0.4,0.6,0.8,1.0,0.8,0.6, 0.8,1.2,1.8,2.6,4.0,6.0,3.4,1.6,0.8,0.6, 0.5,0.4,0.4,0.3,0.3,0.2,0.3,0.2,0.2,0.2, 0.2],
 [0.7,1.1,1.3,0.6,1.0,1.6,2.8,0.4,0.3,0.5,0.7,0.8,0.7,0.6, 0.5,0.6,0.8,1.0,0.8,0.5,0.3,0.2,0.3,0.4, 0.5,0.6,0.5,0.4,0.3,0.2,0.3,0.4,0.5,0.6, 0.8,1.0,1.6,2.4,3.0,2.0,1.2,0.8,0.6,0.5, 0.4,0.5,0.6,0.8,1.0,1.2,1.4,1.6,1.2,0.8, 0.6,0.5,0.4,0.3,0.4,0.3,0.2,0.3,0.2,0.2, 0.2],
 [0.6,1.0,1.3,0.5,0.9,1.6,3.0,0.4,0.3,0.6,1.2,3.1,1.6,0.6, 0.4,0.3,0.2,0.3,0.2,0.2,0.1,0.2,0.3,0.3, 0.4,0.5,0.6,0.5,0.4,0.3,0.4,0.5,0.6,0.8, 1.0,1.4,2.0,1.6,1.2,1.0,1.2,1.6,2.4,3.6, 4.4,5.0,3.2,1.8,1.2,0.9,0.7,0.6,0.5,0.4, 0.4,0.3,0.3,0.2,0.3,0.2,0.2,0.2,0.2,0.2, 0.2],
 [0.6,1.0,1.2,0.5,0.8,1.2,1.9,0.3,0.2,0.3,0.4,0.5,0.4,0.3, 0.3,0.2,0.2,0.3,0.2,0.2,0.3,0.2,0.2,0.3, 0.4,0.5,0.6,0.5,0.4,0.3,0.2,0.3,0.4,0.5, 0.6,0.8,1.0,0.8,0.6,0.5,0.6,0.8,1.0,1.2, 1.4,1.6,1.8,1.6,1.2,1.0,0.8,1.0,1.4,1.8, 2.2,2.6,2.2,1.8,2.4,3.1,2.4,1.6,1.2,1.0, 0.8],
 [0.5,0.9,1.1,0.4,0.8,1.2,1.8,0.3,0.2,0.3,0.4,0.5,0.4,0.3, 0.2,0.3,0.4,0.3,0.2,0.2,0.1,0.2,0.2,0.3, 0.4,0.5,0.6,0.8,0.6,0.4,0.3,0.4,0.6,0.9, 0.9,1.4,2.2,3.0,4.2,6.4,2.4,1.2,0.8,0.6, 0.8,1.0,1.4,2.0,3.0,4.0,5.0,4.4,3.2,5.4, 7.9,3.6,1.8,1.2,0.8,0.6,0.5,0.8,1.4,2.4, 3.0],
 [0.7,1.1,1.4,0.6,1.0,1.8,3.6,0.4,0.3,0.5,0.8,1.0,0.8,0.7, 1.2,3.1,2.4,1.4,0.8,0.5,0.3,0.2,0.3,0.4, 0.5,0.6,0.5,0.4,0.3,0.3,0.4,0.5,0.4,0.3, 0.4,0.5,0.6,0.8,1.0,1.4,1.8,1.4,1.0,0.8, 0.6,0.5,0.6,0.8,1.0,1.2,1.0,0.8,0.7,0.6, 0.5,0.6,0.8,1.0,1.2,1.0,0.8,0.6,0.5,0.4, 0.4]
];

// ---------------- DRAWING ----------------
const FONT = "'DejaVu Sans Mono', 'Liberation Mono', monospace";
const svg = d3.select("#c");
const x = d3.scaleLinear().domain([0, 64]).range([50, 690]);
const yL = d3.scaleLinear().domain([-45, 30]).range([545, 20]);
const yR = d3.scaleLinear().domain([0, 75]).range([545, 20]);

svg.append("rect").attr("width", 740).attr("height", 700).attr("fill", "#fff");

// grid
const grid = svg.append("g");
grid.selectAll("line.h").data(leftTicks).join("line")
  .attr("x1", 50).attr("x2", 690)
  .attr("y1", d => yL(d)).attr("y2", d => yL(d))
  .attr("stroke", d => d === 0 ? "#a0a0a0" : "#c4c4c4")
  .attr("stroke-width", d => d === 0 ? 3 : 2);
grid.selectAll("line.v").data(dayIdx).join("line")
  .attr("x1", d => x(d)).attr("x2", d => x(d))
  .attr("y1", 0).attr("y2", 600)
  .attr("stroke", "#c4c4c4").attr("stroke-width", 2);

// axes (left / right numbers)
const axL = d3.axisLeft(yL).tickValues(leftTicks).tickSize(0).tickPadding(0);
const gL = svg.append("g").attr("transform", "translate(19,0)").call(axL);
gL.select(".domain").remove();
gL.selectAll("text").attr("text-anchor", "start").attr("x", 0).attr("dy", "0.38em")
  .attr("font-family", FONT).attr("font-size", 10).attr("fill", "#000");

const axR = d3.axisRight(yR).tickValues(rightTicks).tickSize(0).tickPadding(0);
const gR = svg.append("g").attr("transform", "translate(709,0)").call(axR);
gR.select(".domain").remove();
gR.selectAll("text").attr("x", 0).attr("dy", "0.38em")
  .attr("font-family", FONT).attr("font-size", 10).attr("fill", "#000");

// date axis
const axB = d3.axisBottom(x).tickValues(dayIdx).tickFormat((d, i) => dayLabels[i]).tickSize(0);
const gB = svg.append("g").attr("transform", "translate(0,603)").call(axB);
gB.select(".domain").remove();
gB.selectAll(".tick text").attr("x", 0).attr("y", 0).attr("dy", 0)
  .attr("transform", "translate(7.5,0) rotate(-90)").attr("text-anchor", "end")
  .attr("font-family", FONT).attr("font-size", 9).attr("fill", "#000");

// frame lines
svg.append("line").attr("x1", 50.5).attr("x2", 50.5).attr("y1", 0).attr("y2", 600).attr("stroke", "#000");
svg.append("line").attr("x1", 690.5).attr("x2", 690.5).attr("y1", 0).attr("y2", 600).attr("stroke", "#000");
svg.append("line").attr("x1", 50).attr("x2", 691).attr("y1", 600.5).attr("y2", 600.5).attr("stroke", "#000");

// section labels
const lab = (t, xx, yy) => svg.append("text").attr("x", xx).attr("y", yy).text(t)
  .attr("font-family", FONT).attr("font-size", 10).attr("fill", "#000");
lab("Temp. 850hPa", 60, 210);
lab("Temp. 500hPa", 60, 366);
lab("Précipitations", 60, 516);
lab("(°C)", 20, 610);
lab("(mm)", 703, 610);

// series
function drawSeries(g, data, scale, color, width, dots) {
  const ln = d3.line().x((d, i) => x(i)).y(d => scale(d));
  g.append("path").datum(data).attr("d", ln).attr("fill", "none")
    .attr("stroke", color).attr("stroke-width", width).attr("stroke-linejoin", "round");
  if (dots) {
    g.selectAll(null).data(data).join("rect")
      .attr("x", (d, i) => x(i) - 1).attr("y", d => scale(d) - 1)
      .attr("width", 2).attr("height", 2).attr("fill", color);
  }
}
const gp = svg.append("g");
[[pert850, yL], [pert500, yL], [pertPr, yR]].forEach(([set, sc]) => {
  set.forEach((s, k) => drawSeries(gp, s, sc, pertColors[k], 1, true));
});
const gm = svg.append("g");
drawSeries(gm, gfs850, yL, "#000", 3, false);
drawSeries(gm, gfs500, yL, "#000", 3, false);
drawSeries(gm, gfsPr, yR, "#000", 3, false);
drawSeries(gm, ctrl850, yL, "#0000ff", 4, false);
drawSeries(gm, ctrl500, yL, "#0000ff", 4, false);
drawSeries(gm, ctrlPr, yR, "#0000ff", 4, false);
drawSeries(gm, mean850, yL, "#ff0000", 5, false);
drawSeries(gm, mean500, yL, "#ff0000", 5, false);
drawSeries(gm, meanPr, yR, "#ff0000", 5, false);

// snow risk row
function flake(g, cx, cy, r) {
  g.append("circle").attr("cx", cx).attr("cy", cy).attr("r", r).attr("fill", "#6fc8f4");
  [0, 60, 120].forEach(a => {
    const rad = a * Math.PI / 180;
    g.append("line").attr("x1", cx - r * Math.cos(rad)).attr("y1", cy - r * Math.sin(rad))
      .attr("x2", cx + r * Math.cos(rad)).attr("y2", cy + r * Math.sin(rad))
      .attr("stroke", "#d8f4ff").attr("stroke-width", 0.9);
  });
  g.append("circle").attr("cx", cx).attr("cy", cy).attr("r", 1).attr("fill", "#2a86d8");
}
const gs = svg.append("g");
gs.append("rect").attr("x", x(snowStart) - 5).attr("y", 584).attr("width", x(64) - x(snowStart) + 10)
  .attr("height", 10).attr("fill", "#c4f0ff");
gs.selectAll("rect.b").data(snowPct).join("rect")
  .attr("x", (d, i) => x(snowStart + i) - 5).attr("width", 10)
  .attr("y", d => 584 - d * 0.22).attr("height", d => d * 0.22).attr("fill", "#c8ffff");
snowPct.forEach((p, i) => flake(gs, x(snowStart + i), 589, 4.6));
gs.selectAll("text").data(snowPct).join("text")
  .attr("transform", (d, i) => `translate(${x(snowStart + i) + 3},580) rotate(-90)`)
  .attr("text-anchor", "start").text(d => d + "%")
  .attr("font-family", FONT).attr("font-size", 7.5).attr("font-weight", "bold").attr("fill", "#0000ff");

// legend
svg.append("rect").attr("x", 35).attr("y", 630).attr("width", 31).attr("height", 3.5).attr("fill", "#ff0000");
lab("Moyenne des scénarios", 75, 641);
svg.append("rect").attr("x", 225).attr("y", 635).attr("width", 30).attr("height", 4).attr("fill", "#0000ff");
lab("Run de contrôle", 265, 640);
svg.append("rect").attr("x", 225).attr("y", 645).attr("width", 30).attr("height", 4).attr("fill", "#000");
lab("Run GFS", 265, 650);
flake(svg.append("g"), 60, 658, 4.6);
lab("Risque neige (par rapport a tous les scénarios)", 75, 662);

lab("20 Perturbations", 370, 656);
const gleg = svg.append("g");
gleg.selectAll("rect").data(pertColors).join("rect")
  .attr("x", (d, i) => 470 + i * 10.95).attr("y", 650).attr("width", 10).attr("height", 6).attr("fill", d => d);
gleg.selectAll("text").data(pertNames).join("text")
  .attr("x", (d, i) => 470 + i * 10.95 + 5).attr("y", 646).attr("text-anchor", "middle")
  .text(d => d).attr("font-family", FONT).attr("font-size", 7).attr("font-weight", "bold").attr("fill", "#000");

svg.append("rect").attr("x", 20.5).attr("y", 667.5).attr("width", 420).attr("height", 31)
  .attr("fill", "none").attr("stroke", "#000").attr("stroke-width", 1.3);
svg.append("text").attr("x", 29).attr("y", 682).text("Diagramme des ensembles GEFS sur 384h : 52.1N 5.2E")
  .attr("font-family", FONT).attr("font-size", 11.4).attr("font-weight", "bold").attr("fill", "#000");
lab("Températures 850hPa et 500hPa (°C) , précipitations (mm)", 29, 695);
lab("Ensemble GEFS du 25/01/2012 - 06h", 450, 675);
svg.append("text").attr("x", 450).attr("y", 695).text("Copyright 2012 Meteociel.fr")
  .attr("font-family", FONT).attr("font-size", 11.4).attr("font-weight", "bold").attr("fill", "#000");
</script>
</body></html>
